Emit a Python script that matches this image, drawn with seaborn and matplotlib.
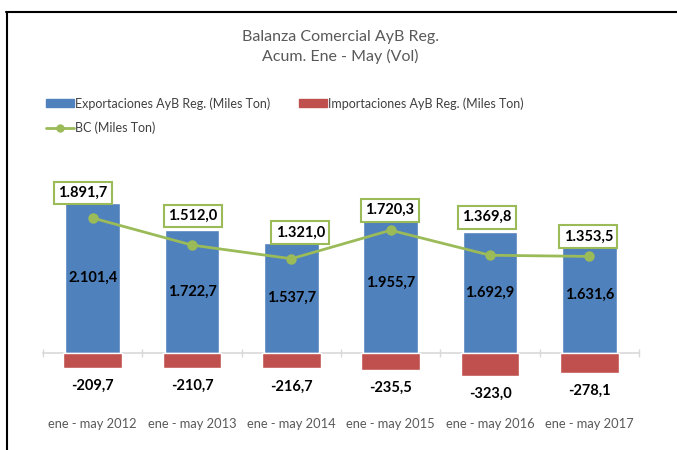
import numpy as np
import pandas as pd
import seaborn as sns
import matplotlib.pyplot as plt
from matplotlib.patches import Patch
from matplotlib.lines import Line2D

# data
periodos = ['ene - may 2012', 'ene - may 2013', 'ene - may 2014',
            'ene - may 2015', 'ene - may 2016', 'ene - may 2017']
exportaciones = [2101.4, 1722.7, 1537.7, 1955.7, 1692.9, 1631.6]
importaciones = [-209.7, -210.7, -216.7, -235.5, -323.0, -278.1]
bc = [1891.7, 1512.0, 1321.0, 1720.3, 1369.8, 1353.5]

# label box offsets (pixels) as placed in the original
bc_dx = [-10, 1, 9, -1, -3, -1]
bc_dy = [25, 29, 26, 20, 38, 20]

azul = '#4F81BD'
rojo = '#C0504D'
verde = '#9BBB59'

def fmt(v):
    s = f'{v:,.1f}'
    return s.replace(',', 'X').replace('.', ',').replace('X', '.')

sns.set_theme(style='white')
plt.rcParams['font.family'] = ['Lato', 'DejaVu Sans']

df = pd.DataFrame({'periodo': periodos, 'exp': exportaciones,
                   'imp': importaciones, 'bc': bc})

fig = plt.figure(figsize=(6.77, 4.5), dpi=100)
ax = fig.add_axes([43 / 677, 50 / 450, 596 / 677, 220 / 450])

sns.barplot(data=df, x='periodo', y='exp', color=azul, width=0.55,
            saturation=1, ax=ax, order=periodos)
sns.barplot(data=df, x='periodo', y='imp', color=rojo, width=0.59,
            saturation=1, ax=ax, order=periodos)
sns.pointplot(data=df, x='periodo', y='bc', color=verde, order=periodos,
              markers='o', markersize=6, linewidth=2, ax=ax)

ax.set_xlim(-0.5, 5.5)
ax.set_ylim(-658, 2424)
ax.set_xlabel('')
ax.set_ylabel('')
ax.set_yticks([])
for s in ['left', 'right', 'top']:
    ax.spines[s].set_visible(False)
ax.spines['bottom'].set_position(('data', 0))
ax.spines['bottom'].set_color('#D9D9D9')
ax.spines['bottom'].set_linewidth(1.2)
ax.spines['bottom'].set_zorder(0.5)
ax.set_xticks(np.arange(-0.5, 6, 1), minor=True)
ax.tick_params(axis='x', which='major', length=0, pad=47,
               labelsize=9.3, labelcolor='#595959')
ax.tick_params(axis='x', which='minor', length=6, width=1,
               direction='inout', color='#D9D9D9', bottom=True)

for i in range(len(periodos)):
    ax.annotate(fmt(exportaciones[i]), (i, exportaciones[i] / 2),
                ha='center', va='center', fontsize=10.5, fontweight='bold',
                color='black')
    ax.annotate(fmt(importaciones[i]), (i, importaciones[i]),
                xytext=(0, -18), textcoords='offset pixels',
                ha='center', va='center', fontsize=10.5, fontweight='bold',
                color='black')
    ax.annotate(fmt(bc[i]), (i, bc[i]),
                xytext=(bc_dx[i], bc_dy[i]), textcoords='offset pixels',
                ha='center', va='center', fontsize=10.5, fontweight='bold',
                color='black', zorder=5,
                bbox=dict(boxstyle='square,pad=0.3', fc='white',
                          ec=verde, lw=1.5))

fig.text(340 / 677, 1 - 47 / 450, 'Balanza Comercial AyB Reg.\nAcum. Ene - May (Vol)',
         ha='center', va='center', fontsize=11.5, color='#595959', linespacing=1.4)

handles = [Patch(color=azul), Line2D([], [], color=verde, lw=2, marker='o', markersize=5),
           Patch(color=rojo)]
labels = ['Exportaciones AyB Reg. (Miles Ton)', 'BC (Miles Ton)',
          'Importaciones AyB Reg. (Miles Ton)']
fig.legend(handles, labels, loc='upper left', bbox_to_anchor=(40 / 677, 1 - 91 / 450),
           ncol=2, frameon=False, fontsize=9, handlelength=2.2, handleheight=0.6,
           handletextpad=0.1, columnspacing=2.3, labelspacing=0.95,
           labelcolor='#404040', borderpad=0)

# outer frame of the pasted chart
fig.add_artist(Line2D([6 / 677, 1], [1 - 12 / 450, 1 - 12 / 450], color='black', lw=1.5))
fig.add_artist(Line2D([7 / 677, 7 / 677], [0, 1 - 12 / 450], color='black', lw=1.5))

fig.savefig('out.png', dpi=100)
